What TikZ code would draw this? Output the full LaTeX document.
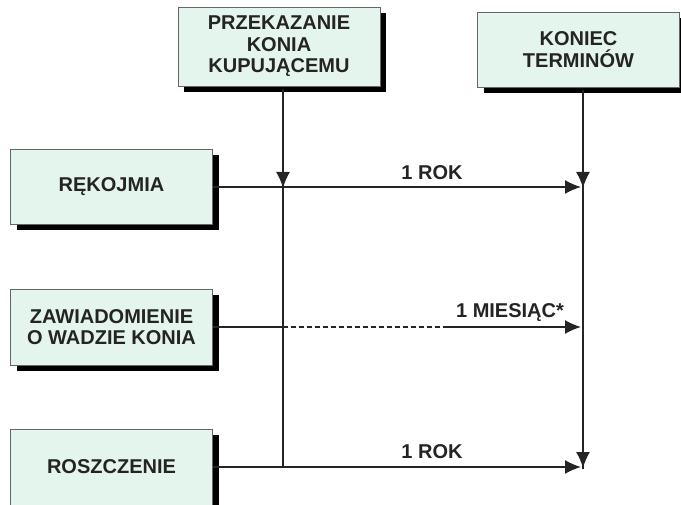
\documentclass[tikz,border=0pt]{standalone}
\usepackage{fontspec}
\setmainfont{Liberation Sans}
\usetikzlibrary{arrows.meta,positioning,shadows}

\definecolor{mint}{HTML}{E3F5EC}
\definecolor{ink}{HTML}{242424}

\begin{document}
\begin{tikzpicture}[
  x=1pt, y=-1pt,
  >={Latex[length=16pt,width=14pt]},
  every node/.style={font=\fontsize{20}{21.5}\selectfont\bfseries, text=ink},
  box/.style={draw=gray!80!black, fill=mint, line width=0.6pt, align=center,
    minimum width=202pt, minimum height=76pt, inner sep=2pt,
    drop shadow={shadow xshift=6pt, shadow yshift=-6pt, fill=black, opacity=1}},
  lbl/.style={inner sep=1pt},
  conn/.style={draw=ink, line width=1.6pt},
  ]
  \useasboundingbox (0,0) rectangle (681,505);

  \node[box, minimum height=79pt] (hand) at (279,46.5) {PRZEKAZANIE\\KONIA\\KUPUJĄCEMU};
  \node[box, minimum height=75pt] (end) at (578.5,49.5) {KONIEC\\TERMINÓW};
  \node[box, minimum height=75pt] (rek) at (111.5,187) {RĘKOJMIA};
  \node[box] (zaw) at (111.5,327) {ZAWIADOMIENIE\\O WADZIE KONIA};
  \node[box] (rosz) at (111.5,467) {ROSZCZENIE};

  \coordinate (lx) at ([xshift=4pt]hand.south);
  \coordinate (rx) at ([xshift=4.5pt]end.south);
  \coordinate (dashend) at (448,327);

  % vertical lines
  \draw[conn] ([yshift=-3pt]lx) -- (lx |- rosz.east);
  \draw[conn, ->] ([yshift=-3pt]lx) -- ([yshift=-1pt]lx |- rek.east);
  \draw[conn] ([yshift=-3pt]rx) -- ([yshift=-2pt]rx |- rosz.east);
  \draw[conn, ->] ([yshift=-3pt]rx) -- ([yshift=-1pt]rx |- rek.east);
  \draw[conn, ->] ([yshift=-3pt]rx |- rek.east) -- ([yshift=-1pt]rx |- rosz.east);

  % periods
  \draw[conn, ->] (rek.east) -- ([xshift=-2pt]rx |- rek.east);
  \draw[conn] (zaw.east) -- (lx |- zaw.east);
  \draw[conn, dashed, dash pattern=on 5pt off 3pt, line width=1.1pt] (lx |- zaw.east) -- (dashend);
  \draw[conn, ->] (dashend) -- ([xshift=-2pt]rx |- zaw.east);
  \draw[conn, ->] (rosz.east) -- ([xshift=-2pt]rx |- rosz.east);

  \node[lbl] (rok1) at (432,173) {1 ROK};
  \node[lbl] (mies) at (510,313) {1 MIESIĄC*};
  \node[lbl] (rok2) at (432,452) {1 ROK};
\end{tikzpicture}
\end{document}
